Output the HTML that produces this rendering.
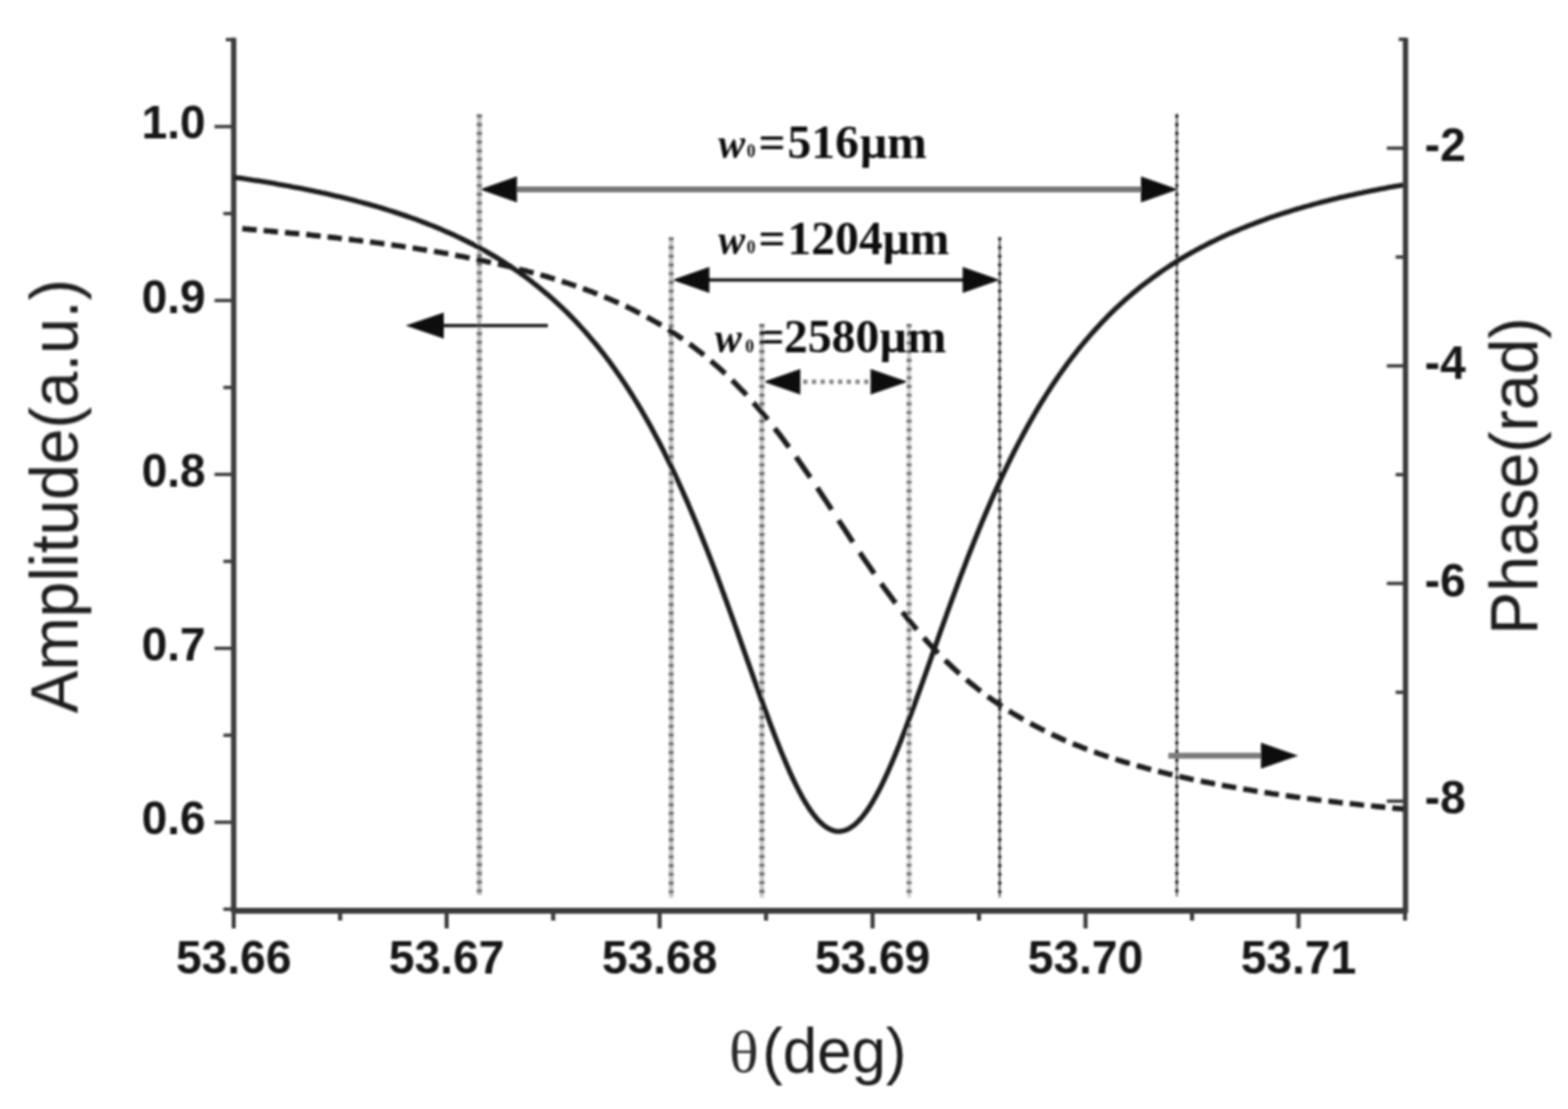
<!DOCTYPE html>
<html lang="en"><head><meta charset="utf-8"><title>Amplitude and phase vs angle</title>
<style>html,body{margin:0;padding:0;background:#fff}body{width:1597px;height:1130px;overflow:hidden}svg{display:block}.tk{font-family:"Liberation Sans",sans-serif;font-weight:bold;font-size:48.5px;fill:#161616}.ax{font-family:"Liberation Sans",sans-serif;font-size:68.6px;fill:#1a1a1a}.an{font-family:"Liberation Serif",serif;font-weight:bold;font-size:48.5px;fill:#111}</style></head><body>
<svg width="1597" height="1130" viewBox="0 0 1597 1130" role="img" aria-label="Amplitude and phase versus incidence angle">
<defs><filter id="b" x="-5%" y="-5%" width="110%" height="110%"><feGaussianBlur stdDeviation="1.30"/></filter></defs>
<rect width="1597" height="1130" fill="#fff"/>
<g filter="url(#b)">
<line x1="488.2" y1="116.5" x2="488.2" y2="912.0" stroke="#c2c2c2" stroke-width="4.6"/>
<line x1="488.2" y1="116.5" x2="488.2" y2="912.0" stroke="#6e6e6e" stroke-width="5.2" stroke-dasharray="3.4 5.47"/>
<line x1="683.6" y1="241.7" x2="683.6" y2="914.6" stroke="#c2c2c2" stroke-width="4.4"/>
<line x1="683.6" y1="241.7" x2="683.6" y2="914.6" stroke="#6e6e6e" stroke-width="5.0" stroke-dasharray="3.4 5.47"/>
<line x1="776.0" y1="330.0" x2="776.0" y2="914.6" stroke="#c6c6c6" stroke-width="4.4"/>
<line x1="776.0" y1="330.0" x2="776.0" y2="914.6" stroke="#666" stroke-width="5.0" stroke-dasharray="3.4 5.47"/>
<line x1="925.9" y1="330.0" x2="925.9" y2="914.6" stroke="#d0d0d0" stroke-width="4.2"/>
<line x1="925.9" y1="330.0" x2="925.9" y2="914.6" stroke="#6e6e6e" stroke-width="5.0" stroke-dasharray="3.4 5.47"/>
<line x1="1018.2" y1="241.7" x2="1018.2" y2="914.6" stroke="#6a6a6a" stroke-width="2.0"/>
<line x1="1018.2" y1="241.7" x2="1018.2" y2="914.6" stroke="#222" stroke-width="3.2" stroke-dasharray="3.4 5.47"/>
<line x1="1198.6" y1="116.5" x2="1198.6" y2="913.4" stroke="#6a6a6a" stroke-width="2.0"/>
<line x1="1198.6" y1="116.5" x2="1198.6" y2="913.4" stroke="#222" stroke-width="3.2" stroke-dasharray="3.4 5.47"/>
<g stroke="#3a3a3a" stroke-width="5.4" fill="none" stroke-linecap="butt">
<path d="M238.0,38.4 V930.0"/>
<path d="M1431.5,38.4 V930.0"/>
<path d="M236.0,928.0 H1433.5" stroke-width="5.8"/>
</g>
<g stroke="#3a3a3a" stroke-width="3.4" fill="none">
<path d="M227.5,926.4 H238.0"/>
<path d="M218.5,837.8 H238.0"/>
<path d="M227.5,749.2 H238.0"/>
<path d="M218.5,660.6 H238.0"/>
<path d="M227.5,572.0 H238.0"/>
<path d="M218.5,483.4 H238.0"/>
<path d="M227.5,394.8 H238.0"/>
<path d="M218.5,306.2 H238.0"/>
<path d="M227.5,217.6 H238.0"/>
<path d="M218.5,129.0 H238.0"/>
<path d="M230.0,40.4 H238.0"/>
<path d="M1412.5,816.3 H1431.5"/>
<path d="M1421.5,705.4 H1431.5"/>
<path d="M1412.5,594.5 H1431.5"/>
<path d="M1421.5,483.6 H1431.5"/>
<path d="M1412.5,372.8 H1431.5"/>
<path d="M1421.5,261.9 H1431.5"/>
<path d="M1412.5,151.0 H1431.5"/>
<path d="M1424.5,40.1 H1431.5"/>
<path d="M238.0,928.0 V946.0" stroke-width="4.2"/>
<path d="M346.4,928.0 V938.0" stroke-width="4.2"/>
<path d="M454.9,928.0 V946.0" stroke-width="4.2"/>
<path d="M563.4,928.0 V938.0" stroke-width="4.2"/>
<path d="M671.8,928.0 V946.0" stroke-width="4.2"/>
<path d="M780.2,928.0 V938.0" stroke-width="4.2"/>
<path d="M888.7,928.0 V946.0" stroke-width="4.2"/>
<path d="M997.1,928.0 V938.0" stroke-width="4.2"/>
<path d="M1105.6,928.0 V946.0" stroke-width="4.2"/>
<path d="M1214.1,928.0 V938.0" stroke-width="4.2"/>
<path d="M1322.5,928.0 V946.0" stroke-width="4.2"/>
<path d="M1431.0,928.0 V938.0" stroke-width="4.2"/>
</g>
<path d="M238.0,180.5 L241.0,181.0 L244.0,181.4 L247.0,181.8 L250.0,182.3 L253.0,182.7 L256.0,183.2 L259.0,183.7 L262.0,184.1 L265.0,184.6 L268.0,185.1 L271.0,185.6 L274.0,186.1 L277.0,186.6 L280.0,187.1 L283.0,187.7 L286.0,188.2 L289.0,188.7 L292.0,189.3 L295.0,189.8 L298.0,190.4 L301.0,190.9 L304.0,191.5 L307.0,192.1 L310.0,192.7 L313.0,193.3 L316.0,193.9 L319.0,194.5 L322.0,195.2 L325.0,195.8 L328.0,196.5 L331.0,197.1 L334.0,197.8 L337.0,198.5 L340.0,199.2 L343.0,199.9 L346.0,200.6 L349.0,201.3 L352.0,202.0 L355.0,202.8 L358.0,203.5 L361.0,204.3 L364.0,205.1 L367.0,205.9 L370.0,206.7 L373.0,207.5 L376.0,208.3 L379.0,209.2 L382.0,210.0 L385.0,210.9 L388.0,211.8 L391.0,212.7 L394.0,213.6 L397.0,214.6 L400.0,215.5 L403.0,216.5 L406.0,217.5 L409.0,218.5 L412.0,219.5 L415.0,220.5 L418.0,221.6 L421.0,222.6 L424.0,223.7 L427.0,224.8 L430.0,226.0 L433.0,227.1 L436.0,228.3 L439.0,229.5 L442.0,230.7 L445.0,231.9 L448.0,233.2 L451.0,234.5 L454.0,235.8 L457.0,237.1 L460.0,238.4 L463.0,239.8 L466.0,241.2 L469.0,242.6 L472.0,244.1 L475.0,245.6 L478.0,247.1 L481.0,248.6 L484.0,250.2 L487.0,251.8 L490.0,253.4 L493.0,255.1 L496.0,256.7 L499.0,258.5 L502.0,260.2 L505.0,262.0 L508.0,263.9 L511.0,265.7 L514.0,267.6 L517.0,269.6 L520.0,271.5 L523.0,273.6 L526.0,275.6 L529.0,277.7 L532.0,279.9 L535.0,282.0 L538.0,284.3 L541.0,286.6 L544.0,288.9 L547.0,291.3 L550.0,293.7 L553.0,296.2 L556.0,298.7 L559.0,301.3 L562.0,303.9 L565.0,306.6 L568.0,309.3 L571.0,312.1 L574.0,315.0 L577.0,317.9 L580.0,320.9 L583.0,324.0 L586.0,327.1 L589.0,330.3 L592.0,333.6 L595.0,336.9 L598.0,340.3 L601.0,343.8 L604.0,347.3 L607.0,350.9 L610.0,354.7 L613.0,358.4 L616.0,362.3 L619.0,366.3 L622.0,370.3 L625.0,374.4 L628.0,378.7 L631.0,383.0 L634.0,387.4 L637.0,391.9 L640.0,396.5 L643.0,401.2 L646.0,406.0 L649.0,410.9 L652.0,415.9 L655.0,421.0 L658.0,426.2 L661.0,431.6 L664.0,437.0 L667.0,442.6 L670.0,448.2 L673.0,454.0 L676.0,459.9 L679.0,466.0 L682.0,472.1 L685.0,478.4 L688.0,484.7 L691.0,491.2 L694.0,497.8 L697.0,504.6 L700.0,511.4 L703.0,518.4 L706.0,525.5 L709.0,532.7 L712.0,540.0 L715.0,547.5 L718.0,555.0 L721.0,562.6 L724.0,570.4 L727.0,578.2 L730.0,586.2 L733.0,594.2 L736.0,602.3 L739.0,610.5 L742.0,618.8 L745.0,627.1 L748.0,635.5 L751.0,643.9 L754.0,652.4 L757.0,660.9 L760.0,669.4 L763.0,677.9 L766.0,686.3 L769.0,694.8 L772.0,703.2 L775.0,711.6 L778.0,719.8 L781.0,728.0 L784.0,736.1 L787.0,744.0 L790.0,751.8 L793.0,759.4 L796.0,766.9 L799.0,774.1 L802.0,781.1 L805.0,787.9 L808.0,794.3 L811.0,800.5 L814.0,806.4 L817.0,812.0 L820.0,817.2 L823.0,822.0 L826.0,826.5 L829.0,830.6 L832.0,834.2 L835.0,837.4 L838.0,840.2 L841.0,842.5 L844.0,844.4 L847.0,845.8 L850.0,846.7 L853.0,847.2 L856.0,847.1 L859.0,846.6 L862.0,845.6 L865.0,844.2 L868.0,842.2 L871.0,839.9 L874.0,837.0 L877.0,833.8 L880.0,830.1 L883.0,826.0 L886.0,821.5 L889.0,816.6 L892.0,811.3 L895.0,805.7 L898.0,799.8 L901.0,793.6 L904.0,787.1 L907.0,780.3 L910.0,773.3 L913.0,766.1 L916.0,758.6 L919.0,751.0 L922.0,743.2 L925.0,735.2 L928.0,727.2 L931.0,719.0 L934.0,710.7 L937.0,702.4 L940.0,694.0 L943.0,685.6 L946.0,677.1 L949.0,668.6 L952.0,660.1 L955.0,651.7 L958.0,643.2 L961.0,634.8 L964.0,626.5 L967.0,618.2 L970.0,609.9 L973.0,601.8 L976.0,593.7 L979.0,585.7 L982.0,577.8 L985.0,569.9 L988.0,562.2 L991.0,554.6 L994.0,547.1 L997.0,539.7 L1000.0,532.4 L1003.0,525.2 L1006.0,518.2 L1009.0,511.2 L1012.0,504.4 L1015.0,497.7 L1018.0,491.1 L1021.0,484.6 L1024.0,478.3 L1027.0,472.1 L1030.0,466.0 L1033.0,460.0 L1036.0,454.1 L1039.0,448.3 L1042.0,442.7 L1045.0,437.2 L1048.0,431.7 L1051.0,426.4 L1054.0,421.2 L1057.0,416.1 L1060.0,411.2 L1063.0,406.3 L1066.0,401.5 L1069.0,396.8 L1072.0,392.2 L1075.0,387.8 L1078.0,383.4 L1081.0,379.1 L1084.0,374.9 L1087.0,370.8 L1090.0,366.8 L1093.0,362.8 L1096.0,359.0 L1099.0,355.2 L1102.0,351.5 L1105.0,347.9 L1108.0,344.4 L1111.0,340.9 L1114.0,337.5 L1117.0,334.2 L1120.0,331.0 L1123.0,327.8 L1126.0,324.7 L1129.0,321.6 L1132.0,318.7 L1135.0,315.7 L1138.0,312.9 L1141.0,310.1 L1144.0,307.4 L1147.0,304.7 L1150.0,302.1 L1153.0,299.5 L1156.0,297.0 L1159.0,294.5 L1162.0,292.1 L1165.0,289.7 L1168.0,287.4 L1171.0,285.2 L1174.0,282.9 L1177.0,280.8 L1180.0,278.6 L1183.0,276.5 L1186.0,274.5 L1189.0,272.5 L1192.0,270.5 L1195.0,268.6 L1198.0,266.7 L1201.0,264.8 L1204.0,263.0 L1207.0,261.2 L1210.0,259.5 L1213.0,257.8 L1216.0,256.1 L1219.0,254.4 L1222.0,252.8 L1225.0,251.2 L1228.0,249.7 L1231.0,248.1 L1234.0,246.6 L1237.0,245.2 L1240.0,243.7 L1243.0,242.3 L1246.0,240.9 L1249.0,239.5 L1252.0,238.2 L1255.0,236.9 L1258.0,235.6 L1261.0,234.3 L1264.0,233.0 L1267.0,231.8 L1270.0,230.6 L1273.0,229.4 L1276.0,228.3 L1279.0,227.1 L1282.0,226.0 L1285.0,224.9 L1288.0,223.8 L1291.0,222.7 L1294.0,221.7 L1297.0,220.7 L1300.0,219.7 L1303.0,218.7 L1306.0,217.7 L1309.0,216.7 L1312.0,215.8 L1315.0,214.8 L1318.0,213.9 L1321.0,213.0 L1324.0,212.1 L1327.0,211.3 L1330.0,210.4 L1333.0,209.6 L1336.0,208.7 L1339.0,207.9 L1342.0,207.1 L1345.0,206.3 L1348.0,205.5 L1351.0,204.8 L1354.0,204.0 L1357.0,203.3 L1360.0,202.6 L1363.0,201.8 L1366.0,201.1 L1369.0,200.4 L1372.0,199.7 L1375.0,199.1 L1378.0,198.4 L1381.0,197.7 L1384.0,197.1 L1387.0,196.5 L1390.0,195.8 L1393.0,195.2 L1396.0,194.6 L1399.0,194.0 L1402.0,193.4 L1405.0,192.8 L1408.0,192.2 L1411.0,191.7 L1414.0,191.1 L1417.0,190.6 L1420.0,190.0 L1423.0,189.5 L1426.0,189.0 L1429.0,188.4" fill="none" stroke="#1a1a1a" stroke-width="5.1" stroke-linejoin="round"/>
<path d="M246.8,233.0 L249.7,233.3 L252.6,233.5 L255.6,233.8 L258.5,234.0 L261.4,234.3 M268.5,234.9 L271.4,235.2 L274.3,235.4 L277.2,235.7 L280.2,236.0 L283.1,236.2 M290.2,236.9 L293.1,237.2 L296.0,237.5 L298.9,237.7 L301.9,238.0 L304.8,238.3 M311.9,239.0 L314.8,239.3 L317.7,239.6 L320.6,240.0 L323.6,240.3 L326.5,240.6 M333.6,241.4 L336.5,241.7 L339.4,242.0 L342.3,242.3 L345.2,242.7 L348.2,243.0 M355.2,243.8 L358.2,244.2 L361.1,244.6 L364.0,244.9 L366.9,245.3 L369.9,245.6 M376.9,246.5 L379.9,246.9 L382.8,247.3 L385.7,247.7 L388.6,248.1 L391.5,248.5 M398.6,249.5 L401.6,249.9 L404.5,250.3 L407.4,250.7 L410.3,251.2 L413.2,251.6 M420.3,252.7 L423.2,253.1 L426.2,253.6 L429.1,254.1 L432.0,254.5 L434.9,255.0 M442.0,256.2 L444.9,256.7 L447.9,257.2 L450.8,257.7 L453.7,258.2 L456.6,258.7 M463.7,260.0 L466.6,260.6 L469.5,261.1 L472.5,261.7 L475.4,262.3 L478.3,262.8 M485.4,264.3 L488.3,264.9 L491.2,265.5 L494.1,266.1 L497.1,266.8 L500.0,267.4 M507.1,269.0 L510.0,269.7 L512.9,270.3 L515.8,271.0 L518.8,271.7 L521.7,272.4 M528.8,274.2 L531.7,275.0 L534.6,275.7 L537.5,276.5 L540.5,277.3 L543.4,278.1 M550.5,280.0 L553.4,280.9 L556.3,281.7 L559.2,282.6 L562.1,283.5 L565.1,284.4 M572.2,286.6 L575.1,287.6 L578.0,288.5 L580.9,289.5 L583.8,290.5 L586.8,291.5 M593.8,294.0 L596.8,295.1 L599.7,296.2 L602.6,297.3 L605.5,298.4 L608.4,299.6 M615.5,302.4 L618.4,303.7 L621.4,304.9 L624.3,306.2 L627.2,307.4 L630.1,308.8 M637.2,312.0 L640.1,313.4 L643.1,314.9 L646.0,316.3 L648.9,317.8 L651.8,319.3 M658.9,323.1 L661.8,324.7 L664.8,326.3 L667.7,328.0 L670.6,329.7 L673.5,331.4 M680.6,335.8 L683.5,337.7 L686.4,339.6 L689.4,341.5 L692.3,343.5 L695.2,345.5 M702.3,350.5 L705.2,352.7 L708.1,354.9 L711.0,357.1 L714.0,359.4 L716.9,361.8 M724.0,367.7 L726.9,370.2 L729.8,372.7 L732.7,375.3 L735.7,378.0 L738.6,380.7 M745.7,387.5 L748.6,390.4 L751.5,393.3 L754.4,396.4 L757.4,399.4 L760.3,402.5 M767.4,410.4 L770.3,413.7 L773.2,417.1 L776.1,420.5 L779.0,424.0 L782.0,427.6 M789.0,436.5 L792.0,440.2 L794.9,444.0 L797.8,447.9 L800.7,451.8 L803.6,455.7 M810.7,465.6 L813.7,469.7 L816.6,473.9 L819.5,478.1 L822.4,482.3 L825.3,486.6 M832.4,497.1 L835.4,501.5 L838.3,505.9 L841.2,510.4 L844.1,514.8 L847.0,519.3 M854.1,530.1 L857.0,534.6 L860.0,539.0 L862.9,543.5 L865.8,547.9 L868.7,552.4 M875.8,563.1 L878.7,567.4 L881.6,571.7 L884.6,576.0 L887.5,580.3 L890.4,584.5 M897.5,594.6 L900.4,598.7 L903.3,602.7 L906.3,606.7 L909.2,610.7 L912.1,614.5 M919.2,623.7 L922.1,627.4 L925.0,631.1 L928.0,634.7 L930.9,638.2 L933.8,641.6 M940.9,649.8 L943.8,653.1 L946.7,656.3 L949.6,659.4 L952.6,662.5 L955.5,665.6 M962.6,672.7 L965.5,675.5 L968.4,678.3 L971.3,681.0 L974.3,683.7 L977.2,686.4 M984.3,692.5 L987.2,695.0 L990.1,697.4 L993.0,699.7 L995.9,702.0 L998.9,704.3 M1006.0,709.6 L1008.9,711.7 L1011.8,713.8 L1014.7,715.8 L1017.6,717.8 L1020.6,719.8 M1027.6,724.4 L1030.6,726.2 L1033.5,728.0 L1036.4,729.7 L1039.3,731.4 L1042.2,733.1 M1049.3,737.1 L1052.3,738.7 L1055.2,740.2 L1058.1,741.7 L1061.0,743.2 L1063.9,744.7 M1071.0,748.1 L1073.9,749.5 L1076.9,750.8 L1079.8,752.2 L1082.7,753.5 L1085.6,754.7 M1092.7,757.7 L1095.6,758.9 L1098.5,760.1 L1101.5,761.3 L1104.4,762.4 L1107.3,763.5 M1114.4,766.1 L1117.3,767.2 L1120.2,768.2 L1123.2,769.2 L1126.1,770.2 L1129.0,771.2 M1136.1,773.5 L1139.0,774.5 L1141.9,775.4 L1144.9,776.3 L1147.8,777.2 L1150.7,778.0 M1157.8,780.1 L1160.7,780.9 L1163.6,781.7 L1166.5,782.5 L1169.5,783.3 L1172.4,784.1 M1179.5,785.9 L1182.4,786.7 L1185.3,787.4 L1188.2,788.1 L1191.1,788.8 L1194.1,789.5 M1201.2,791.2 L1204.1,791.8 L1207.0,792.5 L1209.9,793.1 L1212.8,793.8 L1215.8,794.4 M1222.9,795.9 L1225.8,796.5 L1228.7,797.0 L1231.6,797.6 L1234.5,798.2 L1237.5,798.8 M1244.5,800.1 L1247.5,800.6 L1250.4,801.2 L1253.3,801.7 L1256.2,802.2 L1259.1,802.7 M1266.2,804.0 L1269.2,804.4 L1272.1,804.9 L1275.0,805.4 L1277.9,805.9 L1280.8,806.3 M1287.9,807.5 L1290.8,807.9 L1293.8,808.3 L1296.7,808.8 L1299.6,809.2 L1302.5,809.6 M1309.6,810.7 L1312.5,811.1 L1315.5,811.5 L1318.4,811.9 L1321.3,812.3 L1324.2,812.7 M1331.3,813.6 L1334.2,814.0 L1337.1,814.3 L1340.1,814.7 L1343.0,815.1 L1345.9,815.4 M1353.0,816.3 L1355.9,816.6 L1358.8,817.0 L1361.8,817.3 L1364.7,817.7 L1367.6,818.0 M1374.7,818.8 L1377.6,819.1 L1380.5,819.4 L1383.4,819.7 L1386.4,820.1 L1389.3,820.4 M1396.4,821.1 L1399.3,821.4 L1402.2,821.7 L1405.1,822.0 L1408.0,822.3 L1411.0,822.6 M1418.1,823.2 L1420.3,823.5 L1422.6,823.7 L1424.9,823.9 L1427.2,824.1 L1429.5,824.3" fill="none" stroke="#1a1a1a" stroke-width="5.4" stroke-linejoin="round"/>
<line x1="520" y1="193" x2="1170" y2="193" stroke="#777" stroke-width="5.8"/>
<polygon points="488.7,193.0 526.5,179.8 526.5,206.2" fill="#0a0a0a"/>
<polygon points="1199.8,193.0 1162.0,179.8 1162.0,206.2" fill="#0a0a0a"/>
<line x1="715" y1="285.2" x2="990" y2="285.2" stroke="#222" stroke-width="3.6"/>
<polygon points="684.7,285.2 722.5,272.0 722.5,298.4" fill="#0a0a0a"/>
<polygon points="1018.3,285.2 980.5,272.0 980.5,298.4" fill="#0a0a0a"/>
<line x1="818" y1="389" x2="886" y2="389" stroke="#858585" stroke-width="4.6" stroke-dasharray="4.4 4.47"/>
<polygon points="777.8,389.0 815.1,376.0 815.1,402.0" fill="#0a0a0a"/>
<polygon points="924.5,389.0 886.7,376.0 886.7,402.0" fill="#0a0a0a"/>
<line x1="450" y1="331.8" x2="558" y2="331.8" stroke="#222" stroke-width="3.4"/>
<polygon points="413.2,331.8 452.0,318.6 452.0,345.0" fill="#0a0a0a"/>
<line x1="1190" y1="770" x2="1290" y2="770" stroke="#7c7c7c" stroke-width="5.8"/>
<polygon points="1322.1,770.0 1284.3,756.8 1284.3,783.2" fill="#0a0a0a"/>
<text class="tk" transform="translate(209.5,141.4) scale(0.969,1)" text-anchor="end">1.0</text>
<text class="tk" transform="translate(209.5,318.6) scale(0.969,1)" text-anchor="end">0.9</text>
<text class="tk" transform="translate(209.5,495.8) scale(0.969,1)" text-anchor="end">0.8</text>
<text class="tk" transform="translate(209.5,673.0) scale(0.969,1)" text-anchor="end">0.7</text>
<text class="tk" transform="translate(209.5,850.2) scale(0.969,1)" text-anchor="end">0.6</text>
<text class="tk" transform="translate(1451,164.0) scale(0.969,1)">-2</text>
<text class="tk" transform="translate(1451,385.8) scale(0.969,1)">-4</text>
<text class="tk" transform="translate(1451,607.5) scale(0.969,1)">-6</text>
<text class="tk" transform="translate(1451,829.3) scale(0.969,1)">-8</text>
<text class="tk" transform="translate(238.0,992.0) scale(0.969,1)" text-anchor="middle">53.66</text>
<text class="tk" transform="translate(454.9,992.0) scale(0.969,1)" text-anchor="middle">53.67</text>
<text class="tk" transform="translate(671.8,992.0) scale(0.969,1)" text-anchor="middle">53.68</text>
<text class="tk" transform="translate(888.7,992.0) scale(0.969,1)" text-anchor="middle">53.69</text>
<text class="tk" transform="translate(1105.6,992.0) scale(0.969,1)" text-anchor="middle">53.70</text>
<text class="tk" transform="translate(1322.5,992.0) scale(0.969,1)" text-anchor="middle">53.71</text>
<text class="ax" transform="translate(79,505.6) rotate(-90) scale(0.9515,1)" text-anchor="middle">Amplitude(a.u.)</text>
<text class="ax" transform="translate(1565.8,485.0) rotate(-90) scale(0.9525,1)" text-anchor="middle">Phase(rad)</text>
<text transform="translate(742.6,1091.8) scale(1.05,1)" style="font-family:'Liberation Serif',serif;font-size:60px;fill:#2a2a2a">θ</text>
<text class="ax" transform="translate(776.2,1092.5) scale(0.9615,1)" style="font-size:65.5px">(deg)</text>
<text class="an" y="160.5"><tspan x="731.5" style="font-style:italic;font-size:44px" textLength="27.5" lengthAdjust="spacingAndGlyphs">w</tspan><tspan x="760.5" style="font-size:18px" dy="-0.5">0</tspan><tspan x="772.5" dy="0.5">=</tspan><tspan x="802.0">516</tspan><tspan x="876.0">μm</tspan></text>
<text class="an" y="258.7"><tspan x="731.5" style="font-style:italic;font-size:44px" textLength="27.5" lengthAdjust="spacingAndGlyphs">w</tspan><tspan x="760.5" style="font-size:18px" dy="-0.5">0</tspan><tspan x="772.5" dy="0.5">=</tspan><tspan x="802.0">1204</tspan><tspan x="899.0">μm</tspan></text>
<text class="an" y="359.0"><tspan x="728.0" style="font-style:italic;font-size:44px" textLength="27.5" lengthAdjust="spacingAndGlyphs">w</tspan><tspan x="759.0" style="font-size:18px" dy="-0.5">0</tspan><tspan x="771.5" dy="0.5">=</tspan><tspan x="798.5">2580</tspan><tspan x="896.0">μm</tspan></text>
</g>
</svg></body></html>
